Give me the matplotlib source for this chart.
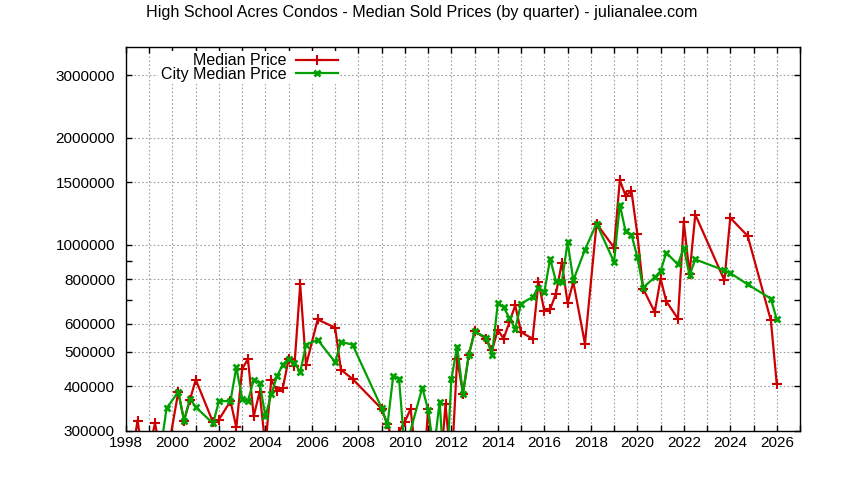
import pandas as pd
import numpy as np
import matplotlib.pyplot as plt
from matplotlib.ticker import FixedLocator, FixedFormatter, NullFormatter, MultipleLocator

plt.rcParams['font.family'] = ['Liberation Sans', 'DejaVu Sans']

# Quarterly medians (values below 300000 fall outside the plot)
quarters = [
    '1998Q1', '1998Q2', '1998Q3', '1998Q4', '1999Q1', '1999Q2', '1999Q3',
    '2000Q1', '2000Q2', '2000Q3', '2000Q4', '2001Q3', '2001Q4',
    '2002Q2', '2002Q3', '2002Q4', '2003Q1', '2003Q2', '2003Q3', '2003Q4',
    '2004Q1', '2004Q2', '2004Q3', '2004Q4', '2005Q1', '2005Q2', '2005Q3',
    '2006Q1', '2006Q4', '2007Q1', '2007Q3', '2008Q4',
    '2009Q1', '2009Q2', '2009Q3', '2009Q4', '2010Q1', '2010Q2', '2010Q3', '2010Q4',
    '2011Q1', '2011Q2', '2011Q3', '2011Q4', '2012Q1', '2012Q2', '2012Q3', '2012Q4',
    '2013Q2', '2013Q3', '2013Q4', '2014Q1', '2014Q2', '2014Q3', '2014Q4',
    '2015Q2', '2015Q3', '2015Q4', '2016Q1', '2016Q2', '2016Q3', '2016Q4',
    '2017Q1', '2017Q3', '2018Q1', '2018Q4',
    '2019Q1', '2019Q2', '2019Q3', '2019Q4', '2020Q1', '2020Q3', '2020Q4',
    '2021Q1', '2021Q3', '2021Q4', '2022Q1', '2022Q2',
    '2023Q3', '2023Q4', '2024Q3', '2025Q3', '2025Q4',
]

median_price = [
    250000, 320000, 250000, 265000, 314000, 262000, 250000,
    385000, 320000, 366000, 417000, 316000, 322000,
    363000, 306000, 447000, 477000, 329000, 385000, 270000,
    417000, 387000, 396000, 478000, 455000, 773000, 458000,
    616000, 584000, 445000, 419000, 345000,
    312000, 280000, 297000, 318000, 345000, 245000, 200000, 345000,
    243000, 220000, 356000, 230000, 478000, 381000, 490000, 570000,
    544000, 504000, 576000, 544000, 605000, 675000, 567000,
    544000, 785000, 651000, 658000, 728000, 889000, 685000,
    785000, 526000, 1146000, 981000,
    1518000, 1374000, 1415000, 1073000, 752000, 646000, 802000,
    693000, 619000, 1158000, 828000, 1215000,
    794000, 1190000, 1058000, 612000, 406000,
]

city_median_price = [
    255000, 260000, 262000, 258000, 262000, 267000, 347000,
    385000, 320000, 368000, 349000, 314000, 363000,
    363000, 452000, 368000, 363000, 417000, 409000, 329000,
    379000, 427000, 460000, 478000, 465000, 438000, 523000,
    540000, 467000, 533000, 523000, 347000,
    310000, 426000, 420000, 262000, None, None, 396000, 343000,
    264000, 362000, 200000, 419000, 517000, 381000, 490000, 570000,
    548000, 490000, 685000, 667000, 622000, 580000, 683000,
    712000, 757000, 736000, 913000, 790000, 785000, 1017000,
    794000, 968000, 1146000, 894000,
    1297000, 1090000, 1068000, 924000, 757000, 810000, 843000,
    949000, 880000, 981000, 820000, 909000,
    846000, 832000, 773000, 705000, 616000,
]

y_ticks = [300000, 400000, 500000, 600000, 800000, 1000000, 1500000, 2000000, 3000000]
y_minor = [700000, 900000]

# quarter -> decimal year (end of quarter)
ends = pd.PeriodIndex(quarters, freq='Q').end_time
dec_year = ends.year + (ends.dayofyear) / 365.25

df = pd.DataFrame({'year': dec_year,
                   'Median Price': pd.to_numeric(pd.Series(median_price), errors='coerce'),
                   'City Median Price': pd.to_numeric(pd.Series(city_median_price), errors='coerce')})

fig = plt.figure(figsize=(8.44, 4.8), dpi=100)
ax = fig.add_axes([126 / 844, 1 - 430.5 / 480, 674 / 844, 383.5 / 480])

red = df[['year', 'Median Price']].dropna()
green = df[['year', 'City Median Price']].dropna()
ax.plot(red['year'], red['Median Price'], color='#cc0000', lw=1.6,
        marker='+', ms=6.5, mew=1.5, label='Median Price')
ax.plot(green['year'], green['City Median Price'], color='#00a000', lw=1.6,
        marker='x', ms=5, mew=1.9, label='City Median Price')

ax.set_yscale('log')
ax.set_ylim(300000, 3600000)
ax.set_xlim(1998, 2027)

ax.yaxis.set_major_locator(FixedLocator(y_ticks))
ax.yaxis.set_major_formatter(FixedFormatter([str(v) for v in y_ticks]))
ax.yaxis.set_minor_locator(FixedLocator(y_minor))
ax.yaxis.set_minor_formatter(NullFormatter())
ax.xaxis.set_major_locator(MultipleLocator(2))
ax.xaxis.set_minor_locator(MultipleLocator(1))

ax.tick_params(which='both', direction='in', top=True, right=True,
               labelsize=11, width=1, length=4)
ax.tick_params(axis='y', which='major', pad=8)
ax.tick_params(axis='x', which='major', pad=4)

grid_style = dict(color='#a0a0a0', linestyle=(0, (1.5, 2.0)), linewidth=0.8)
ax.grid(True, which='major', axis='y', **grid_style)
ax.grid(True, which='both', axis='x', **grid_style)
ax.set_axisbelow(True)

for sp in ax.spines.values():
    sp.set_linewidth(1.0)

leg = ax.legend(loc='upper right', bbox_to_anchor=(0.3175, 1 - 4 / 383.5),
                markerfirst=False, fontsize=11.5, frameon=True, fancybox=False,
                framealpha=1, edgecolor='none', handlelength=2.6,
                handletextpad=0.6, labelspacing=-0.1, borderpad=0.15,
                borderaxespad=0)

fig.text(0.5, 1 - 13 / 480, 'High School Acres Condos - Median Sold Prices (by quarter) - julianalee.com',
         ha='center', va='center', fontsize=11.6)

fig.savefig('out.png', dpi=100)
